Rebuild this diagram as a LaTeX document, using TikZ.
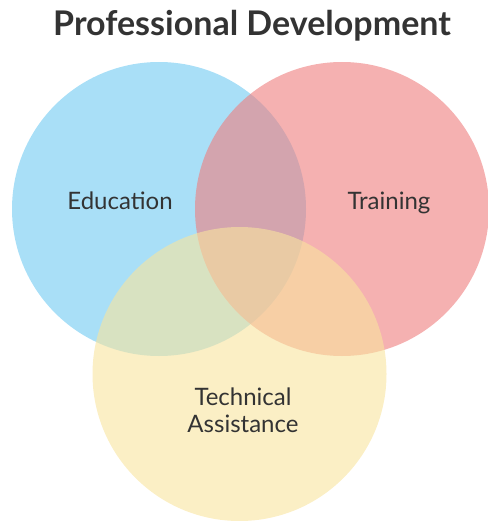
\documentclass[tikz,border=0pt]{standalone}
\usepackage{fontspec}
\setmainfont{Lato}
\definecolor{edublue}{HTML}{70CAF2}
\definecolor{trainred}{HTML}{EE7D7D}
\definecolor{techyellow}{HTML}{F8E49E}
\definecolor{labelgray}{HTML}{333333}
\tikzset{
  venn/.style={circle, minimum size=294pt, inner sep=0pt, fill opacity=0.6},
  label/.style={text=labelgray, font=\fontsize{24}{27}\selectfont, align=center, anchor=base}
}
\begin{document}
\begin{tikzpicture}[x=1pt,y=-1pt]
      \useasboundingbox (0,0) rectangle (487,521);
      \node[venn, fill=edublue] (edu) at (159,209) {};
      \node[venn, fill=trainred] (train) at (342,209) {};
      \node[venn, fill=techyellow] (tech) at (239.5,374) {};
      \node[label, font=\fontsize{34}{40}\selectfont\bfseries] (title) at (252,36) {Professional Development};
      \node[label] (edulabel) at (120,209) {Education};
      \node[label] (trainlabel) at (389,209) {Training};
      \node[label] (techlabel) at (243,432) {Technical\\Assistance};
    \end{tikzpicture}
\end{document}
